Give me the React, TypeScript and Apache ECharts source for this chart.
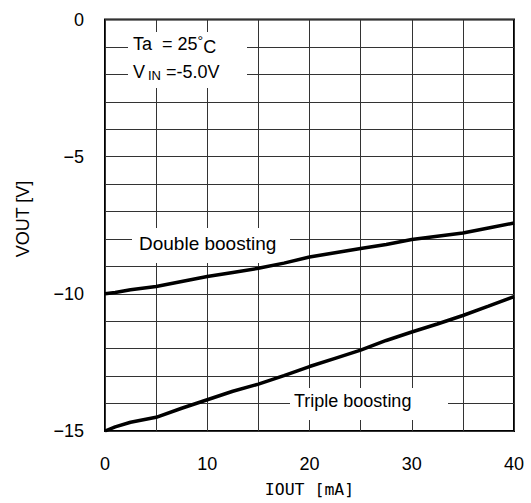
import React, { useEffect, useRef } from "react";
import * as echarts from "echarts";

const xValues = [0, 1, 2.5, 5, 7.5, 10, 12.5, 15, 17.5, 20, 22.5, 25, 27.5, 30, 32.5, 35, 37.5, 40];
const doubleBoosting = [-10, -9.95, -9.85, -9.73, -9.55, -9.37, -9.22, -9.07, -8.88, -8.66, -8.5, -8.35, -8.2, -8.02, -7.9, -7.78, -7.6, -7.42];
const tripleBoosting = [-15, -14.85, -14.68, -14.5, -14.17, -13.86, -13.55, -13.29, -12.98, -12.65, -12.35, -12.05, -11.7, -11.39, -11.1, -10.79, -10.45, -10.1];
const xLabelValues = [0, 10, 20, 30, 40];
const yLabelValues = [0, -5, -10, -15];

const FONT = "'Liberation Sans', Arial, sans-serif";

export default function App() {
  const ref = useRef<HTMLDivElement>(null);
  useEffect(() => {
    document.body.style.margin = "0";
    const chart = echarts.init(ref.current!, undefined, { renderer: "svg" });
    const pair = (ys: number[]) => xValues.map((x, i) => [x, ys[i]]);
    chart.setOption({
      animation: false,
      backgroundColor: "#fff",
      grid: { left: 105, right: 17, top: 19.5, bottom: 71, show: true, borderColor: "#000", borderWidth: 2, backgroundColor: "transparent" },
      xAxis: {
        type: "value",
        min: 0,
        max: 40,
        interval: 5,
        name: "IOUT [mA]",
        nameLocation: "middle",
        nameGap: 50,
        nameTextStyle: { fontFamily: "'DejaVu Sans Mono', monospace", fontSize: 16.5, color: "#000" },
        axisLine: { show: false },
        axisTick: { show: false },
        axisLabel: {
          margin: 24,
          fontFamily: FONT,
          fontSize: 18,
          color: "#000",
          formatter: (v: number) => (xLabelValues.includes(v) ? String(v) : ""),
        },
        splitLine: { show: true, lineStyle: { color: "#333", width: 1 } },
      },
      yAxis: {
        type: "value",
        min: -15,
        max: 0,
        interval: 1,
        axisLine: { show: false },
        axisTick: { show: false },
        axisLabel: {
          margin: 21,
          fontFamily: FONT,
          fontSize: 18,
          color: "#000",
          formatter: (v: number) => (yLabelValues.includes(v) ? (v < 0 ? "\u2212" + String(-v) : String(v)) : ""),
        },
        splitLine: { show: true, lineStyle: { color: "#333", width: 1 } },
      },
      graphic: [
        {
          type: "text",
          x: 22.5,
          y: 219,
          rotation: Math.PI / 2,
          style: { text: "VOUT [V]", font: "18px " + FONT, fill: "#000", align: "center", verticalAlign: "middle" },
        },
        { type: "rect", shape: { x: 128, y: 32, width: 119, height: 56 }, style: { fill: "#fff" }, z: 10 },
        {
          type: "text",
          x: 133,
          y: 44,
          z: 11,
          style: {
            text: "{a|Ta  = 25}{d|°}{c|C}",
            verticalAlign: "middle",
            rich: {
              a: { fontSize: 18, fontFamily: FONT, fill: "#000" },
              d: { fontSize: 14, fontFamily: FONT, fill: "#000", padding: [0, 0, 6, 0] },
              c: { fontSize: 18, fontFamily: FONT, fill: "#000", padding: [6, 0, 0, 0] },
            },
          },
        },
        {
          type: "text",
          x: 133,
          y: 72,
          z: 11,
          style: {
            text: "{a|V}{s|IN}{a| =-5.0V}",
            verticalAlign: "middle",
            rich: {
              a: { fontSize: 18, fontFamily: FONT, fill: "#000" },
              s: { fontSize: 13, fontFamily: FONT, fill: "#000", padding: [6, 0, 0, 3] },
            },
          },
        },
        { type: "rect", shape: { x: 132, y: 228, width: 158, height: 35 }, style: { fill: "#fff" }, z: 10 },
        {
          type: "text",
          x: 139,
          y: 243,
          z: 11,
          style: { text: "Double boosting", font: "19px " + FONT, fill: "#000", verticalAlign: "middle" },
        },
        { type: "rect", shape: { x: 290, y: 388, width: 158, height: 32 }, style: { fill: "#fff" }, z: 10 },
        {
          type: "text",
          x: 294,
          y: 401,
          z: 11,
          style: { text: "Triple boosting", font: "18px " + FONT, fill: "#000", verticalAlign: "middle" },
        },
      ],
      series: [
        {
          type: "line",
          name: "Double boosting",
          data: pair(doubleBoosting),
          symbol: "none",
          lineStyle: { color: "#000", width: 3.5 },
          z: 20,
        },
        {
          type: "line",
          name: "Triple boosting",
          data: pair(tripleBoosting),
          symbol: "none",
          lineStyle: { color: "#000", width: 3.5 },
          z: 20,
        },
      ],
    });
    return () => chart.dispose();
  }, []);
  return <div ref={ref} style={{ width: 531, height: 503 }} />;
}
